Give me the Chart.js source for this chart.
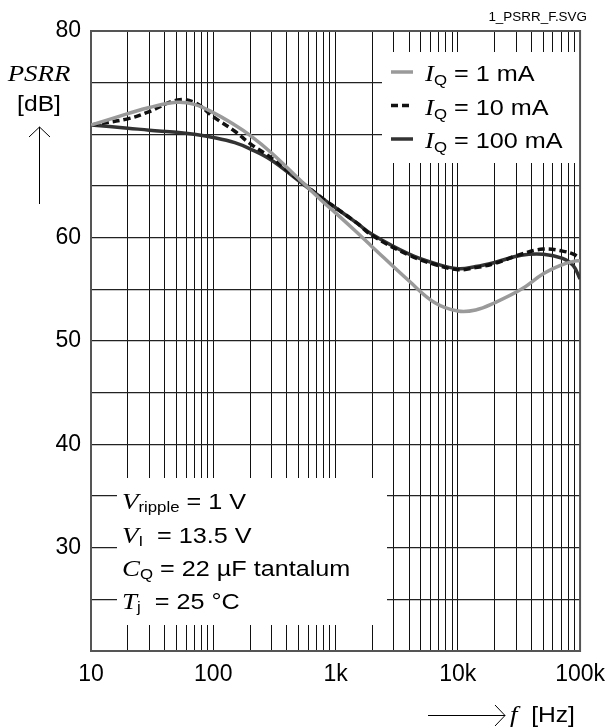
<!DOCTYPE html>
<html lang="en">
<head>
<meta charset="utf-8">
<script src="https://cdn.jsdelivr.net/npm/chart.js"></script>
<style>
    body { margin: 0; background: #ffffff; }
    #wrap { width: 615px; height: 728px; }
</style>
</head>
<body>
<div id="wrap"><canvas id="psrrChart" width="615" height="728"></canvas></div>
<script>
    // Values
    const freqs     = [10, 20, 30, 50, 70, 100, 150, 200, 300, 500, 800, 1000, 1500, 2000, 4000, 6500, 10000, 14000, 20000, 33000, 50000, 72000, 88000, 100000];
    const psrr1mA   = [70.9, 72.0, 72.6, 73.1, 72.9, 72.1, 70.9, 69.9, 68.2, 65.7, 63.4, 62.4, 60.5, 59.1, 55.8, 53.7, 52.9, 53.0, 53.7, 55.0, 56.5, 57.4, 57.7, 57.8];
    const psrr10mA  = [70.9, 71.5, 72.2, 73.3, 73.1, 71.7, 70.3, 69.1, 67.7, 65.6, 63.7, 62.9, 61.4, 60.2, 58.3, 57.4, 56.9, 57.1, 57.5, 58.4, 58.9, 58.7, 58.4, 58.0];
    const psrr100mA = [70.9, 70.6, 70.4, 70.2, 70.0, 69.7, 69.2, 68.6, 67.5, 65.5, 63.7, 62.9, 61.4, 60.3, 58.4, 57.5, 57.0, 57.2, 57.6, 58.3, 58.4, 58.0, 57.3, 56.0];

    const xTickValues = [];
    [10, 100, 1000, 10000].forEach(d => {
        for (let m = 1; m <= 9; m++) xTickValues.push(m * d);
    });
    xTickValues.push(100000);
    const xTickLabels = { 10: '10', 100: '100', 1000: '1k', 10000: '10k', 100000: '100k' };
    const yTickLabels = [80, 60, 50, 40, 30];

    const SANS = "'Liberation Sans', Arial, sans-serif";
    const SERIF = "'Liberation Serif', 'Times New Roman', serif";
    const STRETCH = 1.12; // the reference text is a little wider than plain Arial

    function points(values) {
        return freqs.map((f, i) => ({ x: f, y: values[i] }));
    }

    // draw a run of text pieces: [text, font, dy]
    function drawRich(ctx, x, y, parts, align) {
        ctx.save();
        ctx.textBaseline = 'alphabetic';
        ctx.textAlign = 'left';
        let w = 0;
        parts.forEach(p => { ctx.font = p[1]; w += ctx.measureText(p[0]).width; });
        ctx.translate(x, y);
        ctx.scale(STRETCH, 1);
        let cx = 0;
        if (align === 'center') cx = -w / 2;
        if (align === 'right') cx = -w;
        parts.forEach(p => {
            ctx.font = p[1];
            ctx.fillText(p[0], cx, p[2] || 0);
            cx += ctx.measureText(p[0]).width;
        });
        ctx.restore();
    }

    const overlay = {
        id: 'overlay',
        beforeDatasetsDraw(chart) {
            const ctx = chart.ctx;
            const a = chart.chartArea;
            ctx.save();
            ctx.fillStyle = '#ffffff';
            // legend box (top right) and conditions box (bottom left)
            ctx.fillRect(382, 52, a.right - 382, 111);
            ctx.fillRect(117, 478, 270, 147);
            // frame
            ctx.strokeStyle = '#555';
            ctx.lineWidth = 2;
            ctx.strokeRect(a.left, a.top, a.right - a.left, a.bottom - a.top);
            ctx.restore();
        },
        afterDraw(chart) {
            const ctx = chart.ctx;
            ctx.save();
            ctx.fillStyle = '#000';

            // legend
            const items = [
                { label: ' = 1 mA', color: '#9a9a9a', dash: [] },
                { label: ' = 10 mA', color: '#111', dash: [7, 4] },
                { label: ' = 100 mA', color: '#333', dash: [] }
            ];
            items.forEach((it, i) => {
                const y = 72 + i * 33.5;
                ctx.strokeStyle = it.color;
                ctx.lineWidth = 3.5;
                ctx.setLineDash(it.dash);
                ctx.beginPath();
                ctx.moveTo(391, y);
                ctx.lineTo(413, y);
                ctx.stroke();
                ctx.setLineDash([]);
                drawRich(ctx, 425, y + 9, [
                    ['I', 'italic 24px ' + SERIF],
                    ['Q', '15px ' + SANS, 4],
                    [it.label, '22.5px ' + SANS]
                ]);
            });

            // conditions
            drawRich(ctx, 122, 509, [['V', 'italic 24px ' + SERIF], ['ripple', '15px ' + SANS, 3], [' = 1 V', '22.5px ' + SANS]]);
            drawRich(ctx, 122, 543, [['V', 'italic 24px ' + SERIF], ['I', '15px ' + SANS, 3], ['  = 13.5 V', '22.5px ' + SANS]]);
            drawRich(ctx, 122, 576, [['C', 'italic 24px ' + SERIF], ['Q', '15px ' + SANS, 3], [' = 22 µF tantalum', '22.5px ' + SANS]]);
            drawRich(ctx, 122, 609, [['T', 'italic 24px ' + SERIF], ['j', '15px ' + SANS, 3], ['  = 25 °C', '22.5px ' + SANS]]);

            // y axis title
            drawRich(ctx, 39, 81, [['PSRR', 'italic 24px ' + SERIF]], 'center');
            drawRich(ctx, 39, 111, [['[dB]', '22px ' + SANS]], 'center');
            ctx.strokeStyle = '#000';
            ctx.lineWidth = 1;
            ctx.beginPath();
            ctx.moveTo(39.5, 204);
            ctx.lineTo(39.5, 127);
            ctx.moveTo(29, 137);
            ctx.lineTo(39.5, 127);
            ctx.lineTo(50, 137);
            ctx.stroke();

            // x axis title
            ctx.beginPath();
            ctx.moveTo(428, 715.5);
            ctx.lineTo(505, 715.5);
            ctx.moveTo(495, 705);
            ctx.lineTo(505, 715.5);
            ctx.lineTo(495, 726);
            ctx.stroke();
            drawRich(ctx, 510, 722, [['f', 'italic 24px ' + SERIF], ['  [Hz]', '22px ' + SANS]]);

            // file tag
            drawRich(ctx, 587, 21, [['1_PSRR_F.SVG', '12px ' + SANS]], 'right');
            ctx.restore();
        }
    };

    const ctx = document.getElementById('psrrChart').getContext('2d');
    new Chart(ctx, {
        type: 'line',
        data: {
            datasets: [
                { label: 'IQ = 1 mA', data: points(psrr1mA), borderColor: '#9a9a9a', borderWidth: 3.5 },
                { label: 'IQ = 10 mA', data: points(psrr10mA), borderColor: '#111', borderWidth: 3.5, borderDash: [7, 4] },
                { label: 'IQ = 100 mA', data: points(psrr100mA), borderColor: '#333', borderWidth: 3.5 }
            ]
        },
        options: {
            responsive: false,
            animation: false,
            devicePixelRatio: 1,
            tension: 0.4,
            pointRadius: 0,
            layout: { padding: { left: 0, top: 31, right: 28, bottom: 0 } },
            plugins: { legend: { display: false }, tooltip: { enabled: false } },
            scales: {
                x: {
                    type: 'logarithmic',
                    min: 10,
                    max: 100000,
                    afterBuildTicks(scale) {
                        scale.ticks = xTickValues.map(v => ({ value: v }));
                    },
                    afterFit(scale) { scale.height = 77; },
                    grid: { color: '#111', lineWidth: 1, drawTicks: false },
                    border: { display: false },
                    ticks: {
                        autoSkip: false,
                        maxRotation: 0,
                        padding: 10,
                        color: '#000',
                        font: { family: SANS, size: 23 },
                        callback: v => xTickLabels[v] || ''
                    }
                },
                y: {
                    min: 20,
                    max: 80,
                    afterFit(scale) { scale.width = 91; },
                    grid: { color: '#222', lineWidth: 1.2, drawTicks: false },
                    border: { display: false },
                    ticks: {
                        stepSize: 5,
                        autoSkip: false,
                        padding: 10,
                        color: '#000',
                        font: { family: SANS, size: 23 },
                        callback: v => yTickLabels.includes(v) ? String(v) : ''
                    }
                }
            }
        },
        plugins: [overlay]
    });
</script>
</body>
</html>
